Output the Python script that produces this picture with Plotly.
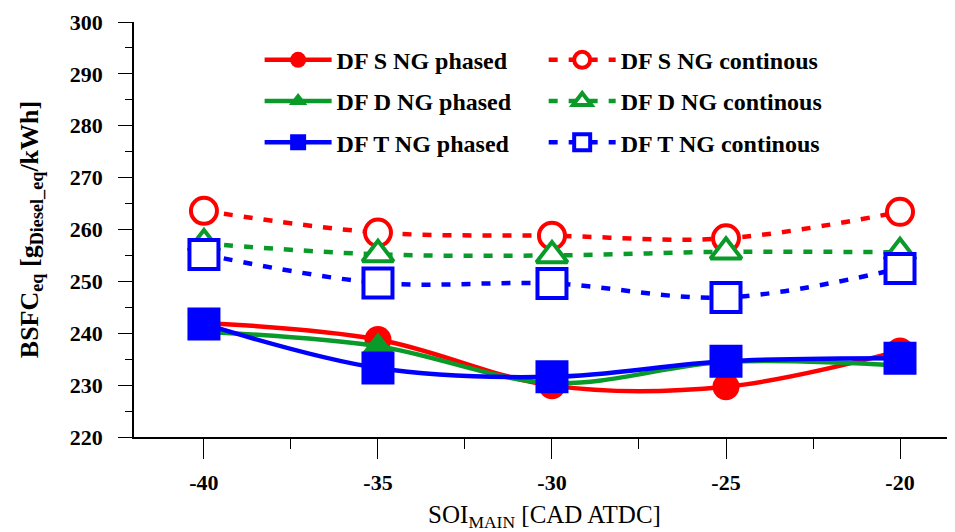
import plotly.graph_objects as go

soi = [-40, -35, -30, -25, -20]
x_ticks = [-40, -35, -30, -25, -20]
x_tick_text = ["-40", "-35", "-30", "-25", "-20"]
y_ticks = [220, 230, 240, 250, 260, 270, 280, 290, 300]

s_phased = [242.0, 238.8, 229.9, 229.7, 236.6]
d_phased = [240.3, 237.5, 230.4, 234.5, 233.8]
t_phased = [241.8, 233.3, 231.6, 234.6, 235.2]
s_cont = [263.6, 259.4, 258.8, 258.3, 263.4]
d_cont = [257.3, 255.2, 255.0, 255.7, 255.6]
t_cont = [255.2, 249.7, 249.6, 246.9, 252.5]

RED = "#FF0000"
GREEN = "#0A9A2A"
BLUE = "#0000FF"

fig = go.Figure()

def add(name, y, color, symbol, dash, legend, size, hollow):
    fig.add_trace(go.Scatter(
        x=soi, y=y, name=name, mode="lines+markers", legendgroup=name,
        line=dict(color=color, width=4.5, shape="spline", smoothing=1.0, dash=dash),
        marker=dict(symbol=symbol, size=size, color="white" if hollow else color,
                    line=dict(color=color, width=4 if hollow else 0)),
        legend=legend,
    ))

DASH = "9px,11px"
add("DF S NG phased", s_phased, RED, "circle", "solid", "legend", 27, False)
add("DF D NG phased", d_phased, GREEN, "triangle-up", "solid", "legend", 28, False)
add("DF T NG phased", t_phased, BLUE, "square", "solid", "legend", 33, False)
add("DF S NG continous", s_cont, RED, "circle", DASH, "legend2", 26, True)
add("DF D NG continous", d_cont, GREEN, "triangle-up", DASH, "legend2", 27, True)
add("DF T NG continous", t_cont, BLUE, "square", DASH, "legend2", 29, True)

font_fam = "Liberation Serif, DejaVu Serif, serif"
legend_common = dict(
    bgcolor="rgba(0,0,0,0)", borderwidth=0,
    font=dict(family=font_fam, size=24, color="black", weight="bold"),
    itemsizing="trace", itemwidth=67, yanchor="top", xanchor="left",
    tracegroupgap=7,
)

fig.update_layout(
    width=947, height=524,
    margin=dict(l=126, r=0, t=14, b=95),
    plot_bgcolor="white", paper_bgcolor="white",
    font=dict(family=font_fam, color="black"),
    showlegend=True,
    legend=dict(x=0.153, y=0.962, **legend_common),
    legend2=dict(x=0.499, y=0.962, **legend_common),
    xaxis=dict(
        range=[-42.01, -18.42],
        tickvals=x_ticks, ticktext=x_tick_text,
        ticks="outside", ticklen=20, tickwidth=1.2, tickcolor="black",
        minor=dict(dtick=2.5, tick0=-42.5, ticks="outside", ticklen=10, tickwidth=1.2, tickcolor="black"),
        showline=True, linecolor="black", linewidth=1.5, mirror=False,
        showgrid=False, zeroline=False, automargin=False,
        tickfont=dict(family=font_fam, size=22, weight="bold"),
        ticklabelstandoff=5,
        title=dict(text="SOI<sub>MAIN</sub> [CAD ATDC]", standoff=14,
                   font=dict(family=font_fam, size=25)),
    ),
    yaxis=dict(
        range=[220, 300],
        tickvals=y_ticks,
        ticks="outside", ticklen=14, tickwidth=1.2, tickcolor="black",
        minor=dict(dtick=5, tick0=215, ticks="outside", ticklen=7, tickwidth=1.2, tickcolor="black"),
        showline=True, linecolor="black", linewidth=1.5, mirror=False,
        showgrid=False, zeroline=False, automargin=False,
        tickfont=dict(family=font_fam, size=22, weight="bold"),
        ticklabelstandoff=11,
        title=dict(text="BSFC<sub>eq</sub> [g<sub>Diesel_eq</sub>/kWh]", standoff=24,
                   font=dict(family=font_fam, size=26, weight="bold")),
    ),
)

fig.write_html("out.html")
